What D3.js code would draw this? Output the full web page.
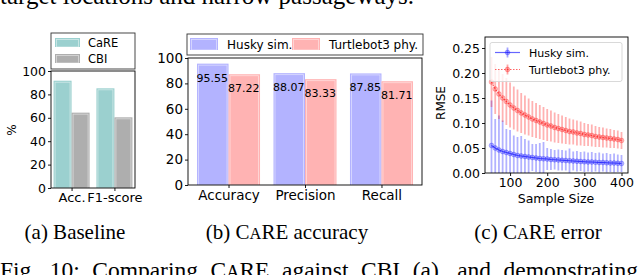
<!DOCTYPE html>
<html lang="en">
<head>
  <meta charset="UTF-8">
  <title>CaRE comparison</title>
  <script src="https://d3js.org/d3.v7.min.js"></script>
  <style>
    body { margin: 0; background: #fff; }
    svg text { font-family: "DejaVu Sans", sans-serif; fill: #000; }
    .serif { font-family: "Liberation Serif", "Times New Roman", serif; }
  </style>
</head>
<body>
  <div id="chart"></div>
  <script>
    // (a) baseline
    const baseMetrics = ["Acc.", "F1-score"];
    const baseCare = [91.7, 85.2];
    const baseCbi = [64.4, 60.4];
    const baseTicks = [0, 20, 40, 60, 80, 100];

    // (b) CaRE accuracy
    const accMetrics = ["Accuracy", "Precision", "Recall"];
    const accHusky = [95.55, 88.07, 87.85];
    const accTurtle = [87.22, 83.33, 81.71];
    const accTicks = [0, 20, 40, 60, 80, 100];

    // (c) CaRE error
    const sampleSizes = [50, 60, 70, 80, 90, 100, 110, 120, 130, 140, 150, 160, 170, 180, 190, 200, 210, 220,
      230, 240, 250, 260, 270, 280, 290, 300, 310, 320, 330, 340, 350, 360, 370, 380, 390, 400];
    const huskyRmse = [0.055, 0.050, 0.046, 0.043, 0.041, 0.039, 0.037, 0.035, 0.034, 0.033, 0.032, 0.031,
      0.030, 0.029, 0.0285, 0.028, 0.027, 0.0265, 0.026, 0.0255, 0.025, 0.0245, 0.024, 0.0235, 0.023, 0.0225,
      0.022, 0.022, 0.0215, 0.021, 0.021, 0.0205, 0.020, 0.020, 0.0195, 0.019];
    const huskyErr = [0.090, 0.058, 0.069, 0.062, 0.047, 0.047, 0.038, 0.037, 0.040, 0.035, 0.033, 0.027,
      0.028, 0.031, 0.0335, 0.022, 0.021, 0.0195, 0.021, 0.0205, 0.020, 0.0245, 0.019, 0.0205, 0.019, 0.0205,
      0.019, 0.020, 0.0185, 0.020, 0.018, 0.0195, 0.018, 0.019, 0.0175, 0.017];
    const turtleRmse = [0.182, 0.168, 0.158, 0.150, 0.143, 0.136, 0.130, 0.125, 0.120, 0.116, 0.112, 0.108,
      0.105, 0.102, 0.099, 0.096, 0.094, 0.091, 0.089, 0.087, 0.085, 0.083, 0.082, 0.080, 0.079, 0.077,
      0.076, 0.075, 0.073, 0.072, 0.071, 0.070, 0.069, 0.068, 0.067, 0.065];
    const turtleErr = [0.050, 0.050, 0.050, 0.048, 0.047, 0.045, 0.043, 0.042, 0.040, 0.039, 0.037, 0.036,
      0.035, 0.034, 0.033, 0.032, 0.031, 0.030, 0.029, 0.028, 0.027, 0.026, 0.025, 0.025, 0.024, 0.023,
      0.022, 0.022, 0.021, 0.020, 0.020, 0.019, 0.019, 0.018, 0.018, 0.017];
    const rmseTicks = [0, 0.05, 0.10, 0.15, 0.20, 0.25];
    const sizeTicks = [100, 200, 300, 400];

    const svg = d3.select("#chart").append("svg")
      .attr("width", 640).attr("height", 275);

    function styleAxis(size) {
      return g => {
        g.select(".domain").remove();
        g.selectAll(".tick line").attr("stroke", "#000").attr("stroke-width", 0.9);
        g.selectAll(".tick text").attr("font-size", size).attr("font-family", "DejaVu Sans");
      };
    }

    // bar with a lighter inner outline, like the reference
    function bar(g, x, y, w, h, color) {
      g.append("rect").attr("x", x).attr("y", y).attr("width", w).attr("height", h).attr("fill", color);
      g.append("rect").attr("x", x + 1.5).attr("y", y + 1.5)
        .attr("width", Math.max(0, w - 3)).attr("height", Math.max(0, h - 1.5))
        .attr("fill", "none").attr("stroke", "#fff").attr("stroke-opacity", 0.55).attr("stroke-width", 0.8);
    }

    // ---------- panel (a) ----------
    {
      const left = 51, right = 135, top = 71, bottom = 188;
      const x = d3.scalePoint().domain(baseMetrics).range([left, right]).padding(0.48);
      const y = d3.scaleLinear().domain([0, 100]).range([bottom, top]);
      const bw = 18;
      const g = svg.append("g");
      baseMetrics.forEach((m, i) => {
        bar(g, x(m) - bw, y(baseCare[i]), bw, bottom - y(baseCare[i]), "#9bd0cf");
        bar(g, x(m), y(baseCbi[i]), bw, bottom - y(baseCbi[i]), "#aeaeae");
      });
      svg.append("g").attr("transform", `translate(${left},0)`)
        .call(d3.axisLeft(y).tickValues(baseTicks).tickSize(3).tickPadding(2)).call(styleAxis(12.5));
      svg.append("g").attr("transform", `translate(0,${bottom})`)
        .call(d3.axisBottom(x).tickSize(3).tickPadding(2)).call(styleAxis(13));
      svg.append("rect").attr("x", left).attr("y", top).attr("width", right - left).attr("height", bottom - top)
        .attr("fill", "none").attr("stroke", "#000").attr("stroke-width", 0.9);
      svg.append("text").attr("transform", `translate(16,130) rotate(-90)`)
        .attr("text-anchor", "middle").attr("font-size", 12).text("%");

      // legend
      const lg = svg.append("g");
      lg.append("rect").attr("x", 51).attr("y", 33).attr("width", 84).attr("height", 36)
        .attr("fill", "#fff").attr("stroke", "#333").attr("stroke-width", 0.9);
      [["CaRE", "#9bd0cf"], ["CBI", "#aeaeae"]].forEach((d, i) => {
        bar(lg, 55, 38 + i * 16, 25, 9, d[1]);
        lg.append("text").attr("x", 88).attr("y", 46.5 + i * 16).attr("font-size", 11.5).text(d[0]);
      });
    }

    // ---------- panel (b) ----------
    {
      const left = 188, right = 422, top = 58, bottom = 185;
      const x = d3.scalePoint().domain(accMetrics).range([left, right]).padding(0.53);
      const y = d3.scaleLinear().domain([0, 100]).range([bottom, top]);
      const bw = 31.5;
      const g = svg.append("g");
      accMetrics.forEach((m, i) => {
        bar(g, x(m) - bw, y(accHusky[i]), bw, bottom - y(accHusky[i]), "#b3b3ff");
        bar(g, x(m), y(accTurtle[i]), bw, bottom - y(accTurtle[i]), "#ffb3b3");
        g.append("text").attr("x", x(m) - bw - 0.5).attr("y", y(accHusky[i]) + 18)
          .attr("font-size", 11).text(accHusky[i].toFixed(2));
        g.append("text").attr("x", x(m) - 0.5).attr("y", y(accTurtle[i]) + 18)
          .attr("font-size", 11).text(accTurtle[i].toFixed(2));
      });
      svg.append("g").attr("transform", `translate(${left},0)`)
        .call(d3.axisLeft(y).tickValues(accTicks).tickSize(3).tickPadding(2)).call(styleAxis(13.5));
      svg.append("g").attr("transform", `translate(0,${bottom})`)
        .call(d3.axisBottom(x).tickSize(3).tickPadding(2)).call(styleAxis(13.5));
      svg.append("rect").attr("x", left).attr("y", top).attr("width", right - left).attr("height", bottom - top)
        .attr("fill", "none").attr("stroke", "#000").attr("stroke-width", 0.9);

      const lg = svg.append("g");
      lg.append("rect").attr("x", 187).attr("y", 34).attr("width", 236).attr("height", 21)
        .attr("fill", "#fff").attr("stroke", "#333").attr("stroke-width", 0.9);
      const entries = [["Husky sim.", "#b3b3ff", 190], ["Turtlebot3 phy.", "#ffb3b3", 292]];
      entries.forEach(d => {
        lg.append("text").attr("x", d[2] + 37).attr("y", 49).attr("font-size", 12).text(d[0]);
      });
      entries.forEach(d => bar(lg, d[2], 38, 28, 12, d[1]));
    }

    // ---------- panel (c) ----------
    {
      const left = 485, right = 628, top = 37, bottom = 173;
      const x = d3.scaleLinear().domain([32.5, 417.5]).range([left, right]);
      const y = d3.scaleLinear().domain([0, 0.272]).range([bottom, top]);
      svg.append("clipPath").attr("id", "clipc").append("rect")
        .attr("x", left).attr("y", top).attr("width", right - left).attr("height", bottom - top);
      const g = svg.append("g").attr("clip-path", "url(#clipc)");

      const series = [
        { mean: huskyRmse, err: huskyErr, color: "0,0,255", dash: null },
        { mean: turtleRmse, err: turtleErr, color: "255,0,0", dash: "1.5,1.5" }
      ];
      series.forEach(s => {
        g.selectAll(null).data(sampleSizes).enter().append("line")
          .attr("x1", d => x(d)).attr("x2", d => x(d))
          .attr("y1", (d, i) => y(s.mean[i] - s.err[i])).attr("y2", (d, i) => y(s.mean[i] + s.err[i]))
          .attr("stroke", `rgba(${s.color},0.3)`).attr("stroke-width", 1.8);
      });
      series.forEach(s => {
        const line = d3.line().x(d => x(d)).y((d, i) => y(s.mean[i]));
        g.append("path").datum(sampleSizes).attr("d", line)
          .attr("fill", "none").attr("stroke", `rgba(${s.color},0.6)`).attr("stroke-width", 1.2)
          .attr("stroke-dasharray", s.dash);
        g.selectAll(null).data(sampleSizes).enter().append("circle")
          .attr("cx", d => x(d)).attr("cy", (d, i) => y(s.mean[i])).attr("r", 2.4)
          .attr("fill", `rgba(${s.color},0.25)`).attr("stroke", `rgba(${s.color},0.4)`).attr("stroke-width", 0.6);
      });

      svg.append("g").attr("transform", `translate(${left},0)`)
        .call(d3.axisLeft(y).tickValues(rmseTicks).tickFormat(d3.format(".2f")).tickSize(3).tickPadding(2))
        .call(styleAxis(12.5));
      svg.append("g").attr("transform", `translate(0,${bottom})`)
        .call(d3.axisBottom(x).tickValues(sizeTicks).tickSize(3).tickPadding(2)).call(styleAxis(12.5));
      svg.append("rect").attr("x", left).attr("y", top).attr("width", right - left).attr("height", bottom - top)
        .attr("fill", "none").attr("stroke", "#000").attr("stroke-width", 0.9);
      svg.append("text").attr("transform", `translate(445,103) rotate(-90)`)
        .attr("text-anchor", "middle").attr("font-size", 12).text("RMSE");
      svg.append("text").attr("x", 556).attr("y", 203)
        .attr("text-anchor", "middle").attr("font-size", 12.5).text("Sample Size");

      const lg = svg.append("g");
      lg.append("rect").attr("x", 490).attr("y", 42.5).attr("width", 132).attr("height", 39).attr("rx", 2)
        .attr("fill", "rgba(255,255,255,0.8)").attr("stroke", "#d5d5d5").attr("stroke-width", 0.9);
      [["Husky sim.", "0,0,255", null], ["Turtlebot3 phy.", "255,0,0", "1.5,1.5"]].forEach((d, i) => {
        const cy = 52.5 + i * 17;
        lg.append("line").attr("x1", 495).attr("x2", 520).attr("y1", cy).attr("y2", cy)
          .attr("stroke", `rgba(${d[1]},0.6)`).attr("stroke-width", 1.2).attr("stroke-dasharray", d[2]);
        lg.append("line").attr("x1", 507.5).attr("x2", 507.5).attr("y1", cy - 5).attr("y2", cy + 5)
          .attr("stroke", `rgba(${d[1]},0.35)`).attr("stroke-width", 1.8);
        lg.append("circle").attr("cx", 507.5).attr("cy", cy).attr("r", 2.4)
          .attr("fill", `rgba(${d[1]},0.3)`).attr("stroke", `rgba(${d[1]},0.4)`).attr("stroke-width", 0.6);
        lg.append("text").attr("x", 529).attr("y", cy + 4).attr("font-size", 11).text(d[0]);
      });
    }

    // ---------- captions ----------
    function smallCapsCare(t) {
      t.append("tspan").text("C");
      t.append("tspan").attr("font-size", "0.78em").text("A");
      t.append("tspan").text("RE");
    }
    svg.append("text").attr("class", "serif").attr("x", 0).attr("y", 3.5).attr("font-size", 25)
      .text("target locations and narrow passageways.");
    svg.append("text").attr("class", "serif").attr("x", 75).attr("y", 239).attr("font-size", 21)
      .attr("text-anchor", "middle").text("(a) Baseline");
    {
      const t = svg.append("text").attr("class", "serif").attr("x", 287).attr("y", 239).attr("font-size", 21)
        .attr("text-anchor", "middle");
      t.append("tspan").text("(b) ");
      smallCapsCare(t);
      t.append("tspan").text(" accuracy");
    }
    {
      const t = svg.append("text").attr("class", "serif").attr("x", 538).attr("y", 239).attr("font-size", 21)
        .attr("text-anchor", "middle");
      t.append("tspan").text("(c) ");
      smallCapsCare(t);
      t.append("tspan").text(" error");
    }
    {
      // justified caption line: widen the word gaps to fill the width
      const t = svg.append("text").attr("class", "serif").attr("x", 0).attr("y", 277.5).attr("font-size", 23.5);
      t.append("tspan").text("Fig. 10: Comparing ");
      smallCapsCare(t);
      t.append("tspan").text(" against CBI (a), and demonstrating");
      const w = t.node().getComputedTextLength();
      const gaps = (t.text().match(/ /g) || []).length;
      t.attr("word-spacing", Math.max(0, (638 - w) / gaps));
    }
  </script>
</body>
</html>
